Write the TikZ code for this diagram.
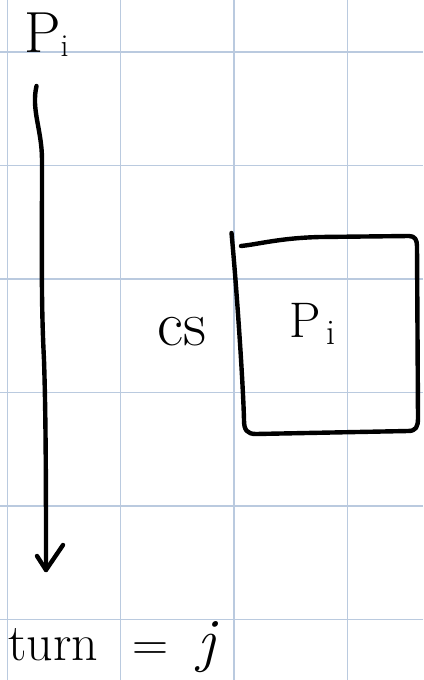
\documentclass[tikz,border=0pt]{standalone}
\usepackage{fontspec}
\tikzset{
  gridline/.style={draw=gridblue, line width=1.3pt},
  ink/.style={draw=black, line width=4.4pt, line cap=round, line join=round},
  hand/.style={inner sep=0pt, text=black},
}
\definecolor{gridblue}{HTML}{BACADF}
\newcommand{\bigsz}[1]{\fontsize{#1}{#1}\selectfont}
\begin{document}
\begin{tikzpicture}[x=1pt, y=-1pt]
\useasboundingbox (0,0) rectangle (423,680);
\fill[white] (0,0) rectangle (423,680);
% grid
\foreach \gx in {7.5,120.5,234,347.5} \draw[gridline] (\gx,0) -- (\gx,680);
\foreach \gy in {52,165.5,279,392.5,506,619.5} \draw[gridline] (0,\gy) -- (423,\gy);

% top label
\node[hand, anchor=base west] (pitop) at (24,52) {\bigsz{58}P\raisebox{-0.08em}{\bigsz{32}i}};

% arrow
\coordinate (astart) at (36.5,86);
\coordinate (amid1) at (42,160);
\coordinate (amid2) at (44,360);
\coordinate (atip) at (46,570);
\coordinate (barbL) at (37,556);
\coordinate (barbR) at (63,545);
\draw[ink] (astart) .. controls (31,110) and (42,130) .. (amid1)
  .. controls (42,260) and (41,300) .. (amid2)
  .. controls (46,420) and (46,500) .. (atip);
\draw[ink] (barbL) -- (atip) -- (barbR);

% cs label
\node[hand, anchor=base west] (cs) at (157,345) {\bigsz{64}cs};

% box
\coordinate (bTL) at (231.5,233);
\coordinate (bBL) at (244,420);
\coordinate (bB1) at (256,434);
\coordinate (bB2) at (408,431);
\coordinate (bR1) at (418,418);
\coordinate (bR2) at (417,246);
\coordinate (bT1) at (409,236);
\coordinate (bT2) at (320,237);
\coordinate (bTend) at (241,246);
\draw[ink] (bTL) .. controls (236,280) and (243,380) .. (bBL)
  .. controls (244,430) and (247,434) .. (bB1) -- (bB2)
  .. controls (416,431) and (418,427) .. (bR1) -- (bR2)
  .. controls (417,240) and (415,236) .. (bT1) -- (bT2)
  .. controls (280,238) and (260,244) .. (bTend);

\node[hand, anchor=base west] (piin) at (289,337) {\bigsz{50}P\raisebox{-0.15em}{\bigsz{36}\,i}};

% bottom equation
\node[hand, anchor=base west] (turn) at (8,660) {\bigsz{52}turn};
\node[hand, anchor=base] (eq) at (150,660) {\bigsz{50}=};
\node[hand, anchor=base] (jj) at (206,660) {\bigsz{60}\itshape j};
\end{tikzpicture}
\end{document}
